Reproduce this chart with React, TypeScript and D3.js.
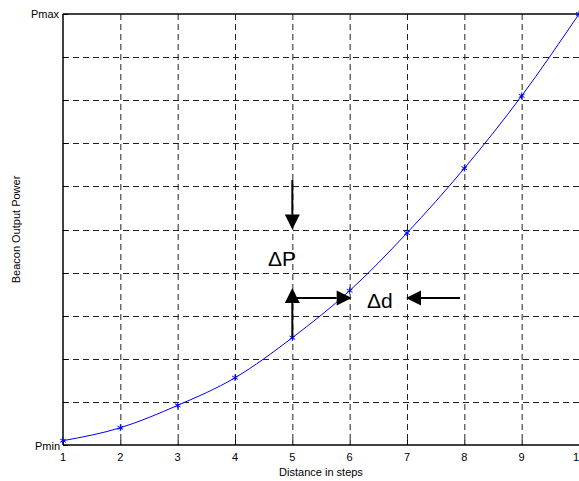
import React, { useEffect, useRef } from "react";
import * as d3 from "d3";

const steps = [1, 2, 3, 4, 5, 6, 7, 8, 9, 10];
const power = [0.1, 0.4, 0.92, 1.56, 2.49, 3.58, 4.92, 6.42, 8.1, 10];
const powerTicks = [0, 1, 2, 3, 4, 5, 6, 7, 8, 9, 10];

const width = 579;
const height = 481;
const margin = { top: 14, right: 0, bottom: 36, left: 63 };

const App = () => {
  const chart = useRef<SVGSVGElement>(null);

  useEffect(() => {
    const svg = d3.select(chart.current);
    svg.selectAll("*").remove();

    const x = d3.scaleLinear().domain([1, 10]).range([margin.left, width - margin.right]);
    const y = d3.scaleLinear().domain([0, 10]).range([height - margin.bottom, margin.top]);
    const font = "'Liberation Sans', Arial, sans-serif";

    // grid
    const grid = svg.append("g").attr("stroke", "#222").attr("stroke-width", 1).attr("stroke-dasharray", "6,4");
    grid
      .selectAll("line.v")
      .data(steps.slice(1, -1))
      .join("line")
      .attr("x1", d => x(d) + 0.5)
      .attr("x2", d => x(d) + 0.5)
      .attr("y1", y(10))
      .attr("y2", y(0));
    grid
      .selectAll("line.h")
      .data(powerTicks.slice(1, -1))
      .join("line")
      .attr("class", "h")
      .attr("x1", x(1))
      .attr("x2", x(10))
      .attr("y1", d => Math.round(y(d)) + 0.5)
      .attr("y2", d => Math.round(y(d)) + 0.5);

    // frame
    const frame = svg.append("g").attr("stroke", "#000").attr("stroke-width", 1.5).attr("fill", "none");
    frame.append("line").attr("x1", x(1)).attr("x2", x(10)).attr("y1", y(10)).attr("y2", y(10));
    frame.append("line").attr("x1", x(1)).attr("x2", x(10)).attr("y1", y(0)).attr("y2", y(0));
    frame.append("line").attr("x1", x(1)).attr("x2", x(1)).attr("y1", y(10)).attr("y2", y(0));

    // x tick marks
    svg
      .append("g")
      .attr("stroke", "#000")
      .selectAll("line")
      .data(steps)
      .join("line")
      .attr("x1", d => x(d) + 0.5)
      .attr("x2", d => x(d) + 0.5)
      .attr("y1", y(0))
      .attr("y2", y(0) - 5);

    // y tick marks
    svg
      .append("g")
      .attr("stroke", "#000")
      .selectAll("line")
      .data(powerTicks)
      .join("line")
      .attr("x1", x(1))
      .attr("x2", x(1) + 5)
      .attr("y1", d => Math.round(y(d)) + 0.5)
      .attr("y2", d => Math.round(y(d)) + 0.5);

    // x tick labels
    svg
      .append("g")
      .selectAll("text")
      .data(steps)
      .join("text")
      .attr("x", d => x(d))
      .attr("y", y(0) + 16)
      .attr("text-anchor", "middle")
      .attr("font-family", font)
      .attr("font-size", 11)
      .text(d => d);

    svg
      .append("text")
      .attr("x", x(1) - 4)
      .attr("y", y(10) + 4)
      .attr("text-anchor", "end")
      .attr("font-family", font)
      .attr("font-size", 11)
      .text("Pmax");
    svg
      .append("text")
      .attr("x", x(1) - 3)
      .attr("y", y(0) + 5)
      .attr("text-anchor", "end")
      .attr("font-family", font)
      .attr("font-size", 11)
      .text("Pmin");

    svg
      .append("text")
      .attr("x", (x(1) + x(10)) / 2)
      .attr("y", 476)
      .attr("text-anchor", "middle")
      .attr("font-family", font)
      .attr("font-size", 11)
      .text("Distance in steps");
    svg
      .append("text")
      .attr("transform", `translate(20,${(y(0) + y(10)) / 2}) rotate(-90)`)
      .attr("text-anchor", "middle")
      .attr("font-family", font)
      .attr("font-size", 11)
      .text("Beacon Output Power");

    // curve
    const line = d3
      .line<number>()
      .x((d, i) => x(steps[i]))
      .y(d => y(d))
      .curve(d3.curveMonotoneX);
    svg
      .append("path")
      .attr("d", line(power))
      .attr("fill", "none")
      .attr("stroke", "#0000ff")
      .attr("stroke-width", 1);

    const sym = d3.symbol().type(d3.symbolAsterisk).size(30);
    svg
      .append("g")
      .selectAll("path")
      .data(power)
      .join("path")
      .attr("transform", (d, i) => `translate(${x(steps[i])},${y(d)})`)
      .attr("d", sym())
      .attr("fill", "none")
      .attr("stroke", "#0000ff")
      .attr("stroke-width", 1);

    // annotation arrows
    const arrow = (x1: number, y1: number, x2: number, y2: number) => {
      const ang = Math.atan2(y2 - y1, x2 - x1);
      const len = 15;
      const half = 7.5;
      const bx = x2 - len * Math.cos(ang);
      const by = y2 - len * Math.sin(ang);
      svg
        .append("line")
        .attr("x1", x1)
        .attr("y1", y1)
        .attr("x2", bx)
        .attr("y2", by)
        .attr("stroke", "#000")
        .attr("stroke-width", 2);
      const px = -Math.sin(ang) * half;
      const py = Math.cos(ang) * half;
      svg
        .append("path")
        .attr("d", `M${x2},${y2}L${bx + px},${by + py}L${bx - px},${by - py}Z`)
        .attr("fill", "#000");
    };

    const ax = x(5);
    arrow(ax, 180, ax, y(5));
    arrow(ax, y(power[4]), ax, 288);
    arrow(ax, 298, x(6) + 2, 298);
    arrow(460, 298, 406, 298);

    svg
      .append("text")
      .attr("x", 268)
      .attr("y", 266)
      .attr("font-family", font)
      .attr("font-size", 21)
      .text("ΔP");
    svg
      .append("text")
      .attr("x", 367)
      .attr("y", 308)
      .attr("font-family", font)
      .attr("font-size", 21)
      .text("Δd");
  }, []);

  return (
    <svg
      ref={chart}
      width={width}
      height={height}
      style={{ position: "absolute", left: 0, top: 0, background: "#fff" }}
    ></svg>
  );
};

export default App;
